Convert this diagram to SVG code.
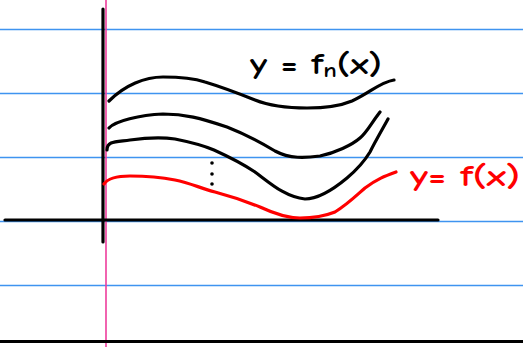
<svg xmlns="http://www.w3.org/2000/svg" width="523" height="347" viewBox="0 0 523 347">
<style>
.rule{stroke:#3f94f0;stroke-width:1.4}
.ink{fill:none;stroke:#000;stroke-width:3.2;stroke-linecap:round;stroke-linejoin:round}
.red{fill:none;stroke:#ff0000;stroke-width:3.2;stroke-linecap:round;stroke-linejoin:round}
.lbl{font-family:"Comic Neue","Liberation Sans",sans-serif;font-size:30px;font-weight:bold}
</style>
<rect width="523" height="347" fill="#fff"/>
<g id="paper">
<line class="rule" x1="0" y1="29.5" x2="523" y2="29.5"/>
<line class="rule" x1="0" y1="93.5" x2="523" y2="93.5"/>
<line class="rule" x1="0" y1="157.5" x2="523" y2="157.5"/>
<line class="rule" x1="0" y1="221.5" x2="523" y2="221.5"/>
<line class="rule" x1="0" y1="285.5" x2="523" y2="285.5"/>
<line x1="106" y1="0" x2="106" y2="347" stroke="#ee3d9c" stroke-width="1.6"/>
<line x1="0" y1="341.5" x2="523" y2="341.5" stroke="#000" stroke-width="3"/>
</g>
<g id="axes">
<line class="ink" x1="103" y1="9" x2="103" y2="242"/>
<line class="ink" x1="5" y1="220" x2="438" y2="220"/>
</g>
<g id="curves">
<path class="ink" d="M109,101 C125,85 145,77 163,77 C180,77 193,78 205,82 C225,88 240,94 255,100 C270,106 290,108 307,108 C325,108 340,106 352,101 C370,93 380,82 394,80"/>
<path class="ink" d="M109,128 C115,121 140,115 163,114 C185,114 200,118 227,127 C245,134 260,142 275,151 C290,159 305,158 320,156 C335,153 352,145 360,138 C367,132 370,125 380,112"/>
<path class="ink" d="M107,150 C107,141 115,142 130,140 C145,138 160,137 175,139 C185,141 200,144 214,150 C225,155 240,162 255,172 C270,183 285,197 305,199 C318,199 335,188 347,178 C360,167 367,157 370,152 C376,140 382,130 388,119"/>
<path class="red" d="M104,184 C108,178 118,176 130,176 C145,176 160,177 175,180 C190,183 200,188 215,192 C230,196 245,201 260,207 C275,214 290,218 300,218 C315,218 325,216 335,212 C348,204 358,194 365,188 C377,179 385,176 396,172"/>
<circle cx="212" cy="163" r="1.8"/>
<circle cx="212" cy="174" r="1.8"/>
<circle cx="212" cy="184" r="1.8"/>
</g>
<g id="labels">
<text class="lbl" x="250" y="74" textLength="132" lengthAdjust="spacingAndGlyphs">y = f<tspan font-size="20" dy="3">n</tspan><tspan dy="-3">(x)</tspan></text>
<text class="lbl" x="410" y="186" fill="#ff0000" textLength="110" lengthAdjust="spacingAndGlyphs">y= f(x)</text>
</g>
</svg>
